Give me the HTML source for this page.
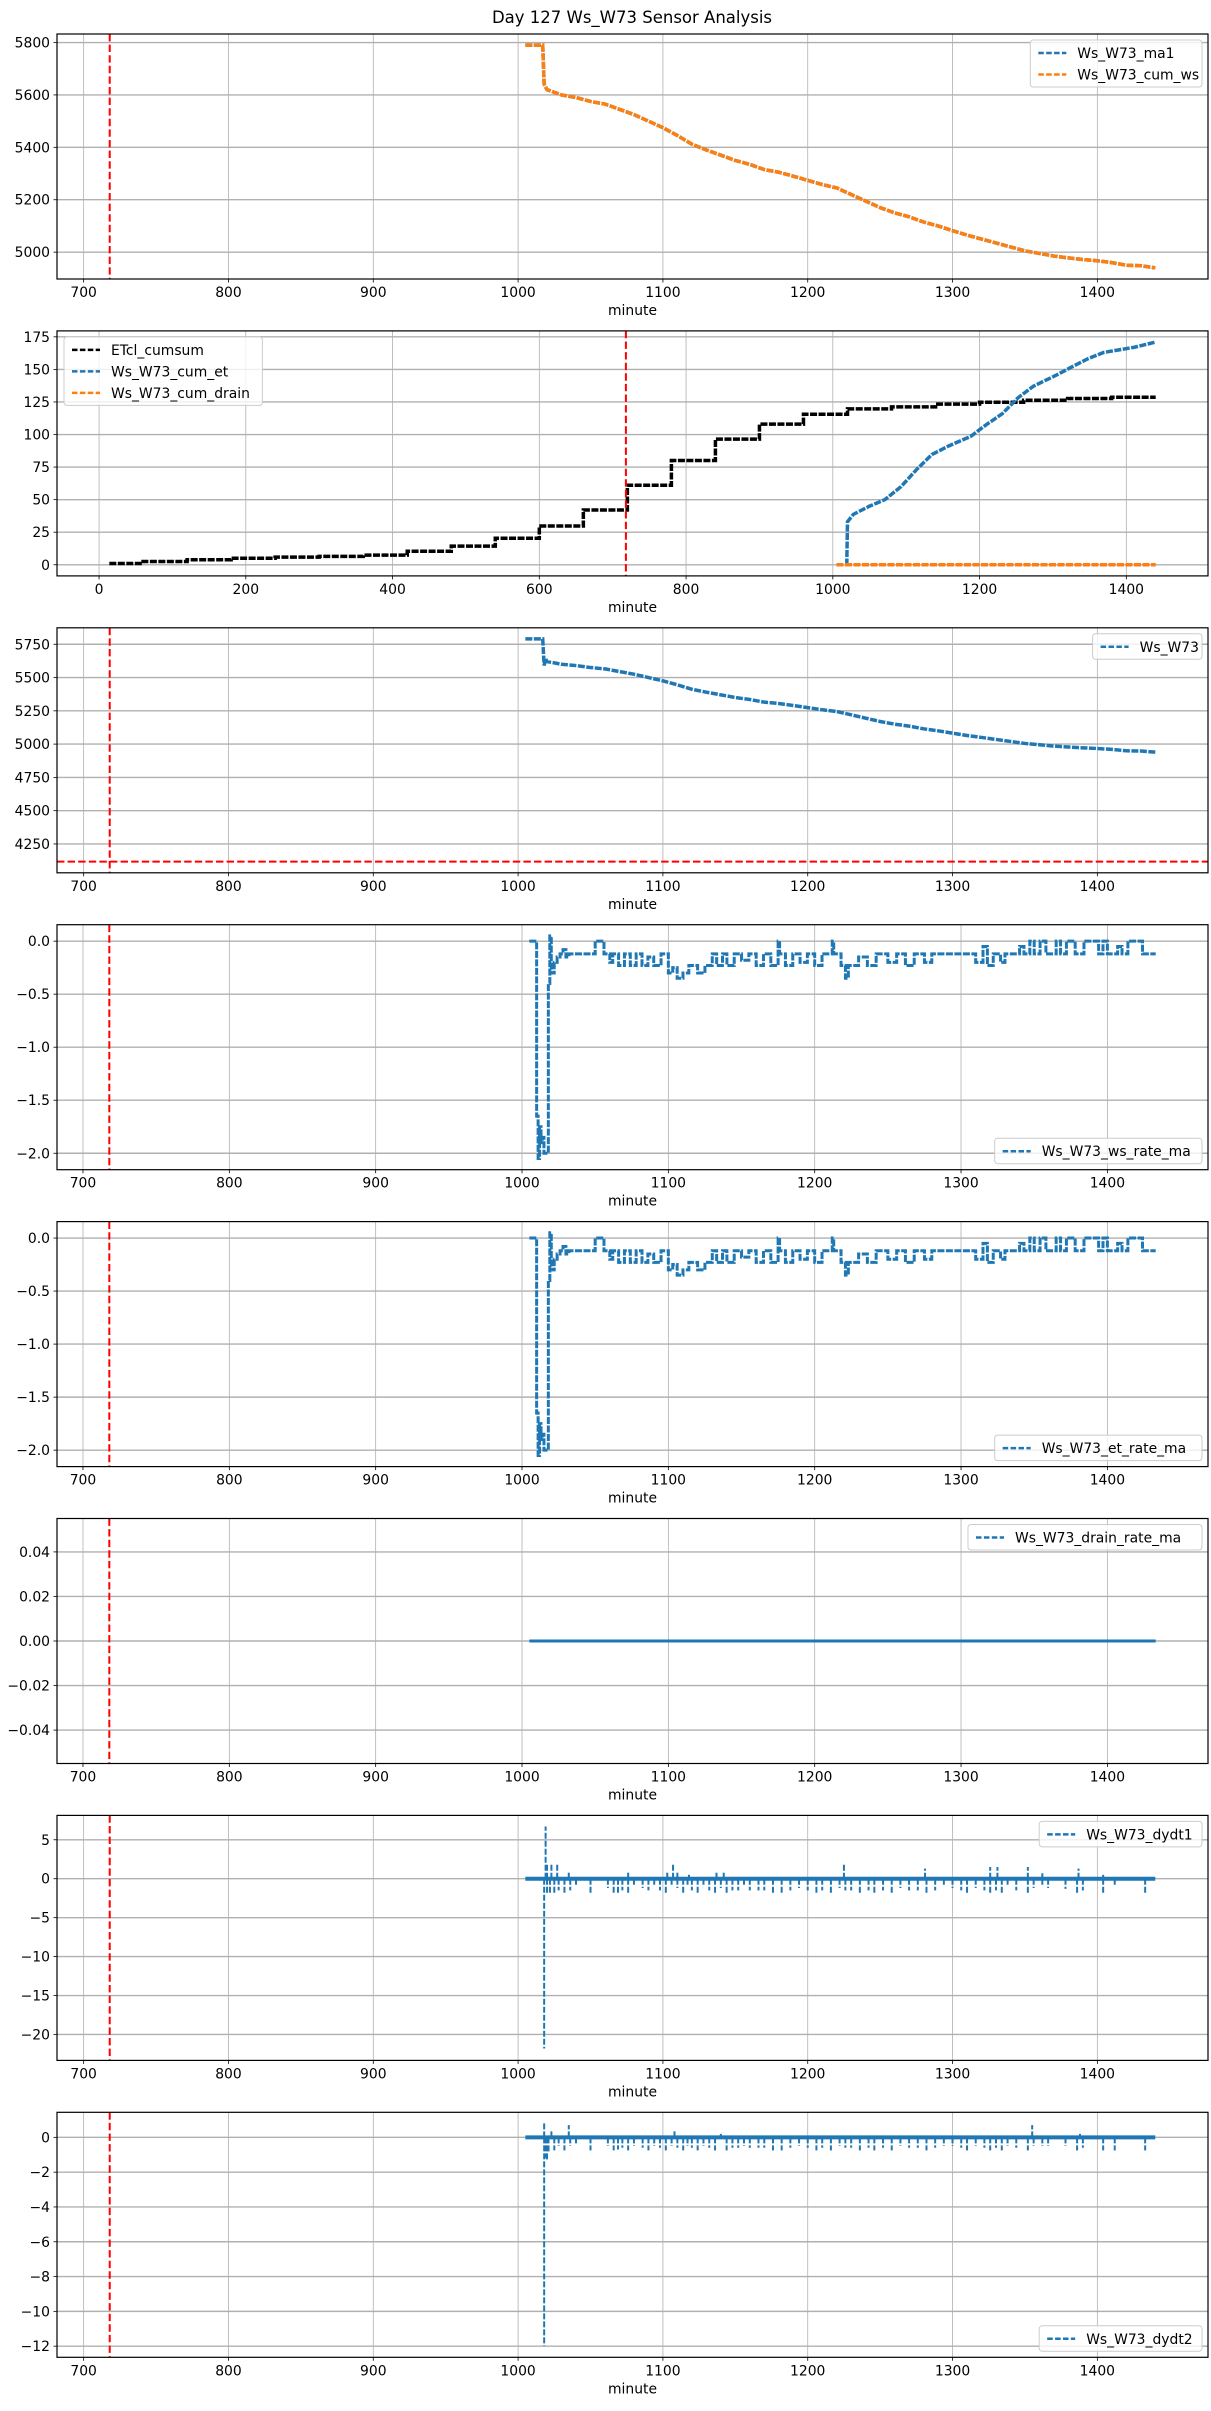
<!DOCTYPE html>
<html><head><meta charset="utf-8"><title>Day 127 Ws_W73 Sensor Analysis</title>
<style>
html,body{margin:0;padding:0;background:#fff;}
svg{display:block;font-family:"DejaVu Sans","Liberation Sans",sans-serif;}
</style></head>
<body>
<svg id="chart" width="1211" height="2411" viewBox="0 0 1211 2411" xmlns="http://www.w3.org/2000/svg">
<rect x="0" y="0" width="1211" height="2411" fill="#fff"/>
<text x="632" y="23" font-size="16.5" text-anchor="middle" fill="#000">Day 127 Ws_W73 Sensor Analysis</text>
</svg>
<script>
// ---------- data ----------
const wsMin = [1005,1017,1018,1020,1025,1030,1040,1050,1060,1070,1080,1090,1100,1110,1120,1130,1140,1150,1160,1170,1180,1190,1200,1210,1220,1230,1240,1250,1260,1270,1280,1290,1300,1310,1320,1330,1340,1350,1360,1370,1380,1390,1400,1410,1420,1430,1440];
const wsVal = [5790,5790,5640,5620,5610,5600,5590,5575,5565,5545,5525,5500,5475,5445,5412,5390,5370,5350,5335,5315,5305,5290,5274,5258,5245,5220,5195,5170,5150,5135,5115,5100,5082,5065,5050,5035,5020,5005,4995,4985,4978,4972,4967,4960,4950,4948,4940];
const etMin = [14,60,120,180,240,300,360,420,480,540,600,660,720,780,840,900,960,1020,1080,1140,1200,1260,1320,1380,1440];
const etVal = [1,2.5,3.8,5,5.9,6.4,7.4,10.4,14.3,20.4,29.8,42,61,80,96.5,108,115.6,119.7,121.2,123.3,124.8,126.3,127.6,128.6,128.6];
const cumEtMin = [1018,1019,1020,1028,1050,1071,1093,1114,1135,1157,1188,1209,1231,1252,1273,1305,1326,1347,1369,1390,1411,1440];
const cumEtVal = [0,0,33,38.7,45,50,60,73,84.6,91,98.6,107.5,116,128,137,145.7,152,158,163,165,167,171];
const drainMin = [1005,1440];
const drainVal = [0,0];
const ws3Min = [1005,1017,1018,1019,1020,1025,1030,1040,1050,1060,1070,1080,1090,1100,1110,1120,1130,1140,1150,1160,1170,1180,1190,1200,1210,1220,1230,1240,1250,1260,1270,1280,1290,1300,1310,1320,1330,1340,1350,1360,1370,1380,1390,1400,1410,1420,1430,1440];
const ws3Val = [5790,5790,5590,5640,5620,5610,5600,5590,5575,5565,5545,5525,5500,5475,5445,5412,5390,5370,5350,5335,5315,5305,5290,5274,5258,5245,5220,5195,5170,5150,5135,5115,5100,5082,5065,5050,5035,5020,5005,4995,4985,4978,4972,4967,4960,4950,4948,4940];
const wsThreshold = 4117;
const rateMin = [1005,1010,1011,1012,1013,1014,1015,1017,1018,1019,1020,1022,1024,1026,1028,1030,1032,1050,1056,1060,1062,1066,1070,1074,1078,1082,1086,1090,1095,1100,1103,1106,1110,1114,1120,1125,1130,1133,1137,1140,1145,1150,1155,1160,1165,1170,1175,1176,1180,1185,1190,1195,1200,1205,1212,1213,1218,1221,1223,1230,1236,1242,1250,1256,1262,1268,1275,1280,1290,1300,1310,1315,1318,1322,1327,1330,1340,1343,1347,1350,1354,1358,1365,1368,1372,1378,1384,1394,1397,1400,1407,1410,1414,1420,1424,1433];
const rateVal = [0,-1.65,-2.05,-1.75,-1.9,-1.85,-2.0,-2.0,-0.4,0.05,-0.3,-0.2,-0.15,-0.12,-0.08,-0.15,-0.12,0,-0.12,-0.2,-0.12,-0.23,-0.12,-0.23,-0.12,-0.23,-0.15,-0.23,-0.12,-0.3,-0.25,-0.35,-0.3,-0.23,-0.3,-0.23,-0.12,-0.23,-0.12,-0.23,-0.12,-0.18,-0.12,-0.23,-0.12,-0.23,0,-0.12,-0.23,-0.12,-0.2,-0.12,-0.23,-0.12,0,-0.12,-0.23,-0.35,-0.23,-0.15,-0.23,-0.12,-0.2,-0.12,-0.23,-0.12,-0.2,-0.12,-0.12,-0.12,-0.2,-0.05,-0.23,-0.12,-0.2,-0.12,-0.05,-0.12,0,-0.12,0,-0.12,0,-0.12,0,-0.12,0,-0.12,0,-0.12,-0.05,-0.12,0,0,-0.12,-0.12];
const drainRateMin = [1005,1433];
const drainRateVal = [0,0];
const d1Base = [1005,1440];
const d1SpikeMin = [1018,1019,1020,1020,1022,1023,1025,1027,1028,1032,1035,1036,1040,1050,1062,1066,1069,1072,1076,1076,1080,1086,1090,1094,1098,1102,1103,1106,1107,1110,1110,1114,1117,1118,1120,1124,1128,1132,1136,1137,1140,1142,1144,1148,1152,1156,1160,1166,1170,1176,1182,1188,1194,1200,1206,1210,1216,1222,1225,1226,1230,1236,1242,1246,1252,1258,1264,1270,1276,1281,1282,1288,1294,1300,1306,1310,1316,1322,1326,1326,1330,1331,1334,1338,1344,1352,1352,1356,1362,1362,1366,1378,1386,1387,1390,1404,1404,1412,1433];
const d1SpikeVal = [-21.8,6.7,-2,1.8,-1.8,1.8,-2,1.8,-1.5,-2,1,-1.5,-1,-2,-1.2,-2,-1.8,-1.5,-2,1,-1,-1.2,-1.5,-1,-1.5,-1.8,1,-1,1.8,-1.2,1,-1.8,-1,0.5,-1.5,-1.8,-1,-1.5,-2,1,-1.2,1,-2,-1.5,-1.5,-1,-1.5,-1.5,-1.5,-1.8,-2,-1.5,-1.2,-1.5,-2,-1.5,-2,-1.2,1.8,-1.5,-1.5,-2,-1.5,-2,-1.5,-2,-1.2,-1.5,-1.5,1.3,-2,-1.5,-1,-1.2,-1.5,-2,-1.2,-1.5,-2,1.5,-1.5,1.5,-2,-1,-1.5,-2,1.5,-1.2,-1,0.7,-1.2,-1.3,-1.8,1.3,-1.5,-1.8,0.5,-1,-2];
const d2Base = [1005,1440];
const d2SpikeMin = [1018,1018,1019,1020,1021,1023,1025,1028,1032,1035,1036,1040,1050,1062,1066,1069,1072,1076,1080,1086,1090,1094,1098,1102,1106,1108,1110,1114,1117,1120,1124,1128,1132,1136,1140,1144,1148,1152,1156,1160,1166,1170,1176,1182,1188,1194,1200,1206,1210,1216,1222,1226,1230,1236,1242,1246,1252,1258,1264,1270,1276,1282,1288,1294,1300,1306,1310,1316,1322,1326,1330,1334,1338,1344,1352,1355,1356,1362,1366,1378,1386,1388,1390,1404,1412,1433];
const d2SpikeVal = [-12,0.8,-1.2,-1.3,-0.9,0.4,-0.75,-0.5,-0.75,0.7,-0.5,-0.4,-0.75,-0.5,-0.75,-0.7,-0.6,-0.75,-0.5,-0.6,-0.75,-0.5,-0.6,-0.75,-0.5,0.35,-0.6,-0.75,-0.5,-0.6,-0.75,-0.5,-0.6,-0.75,0.2,-0.75,-0.6,-0.6,-0.5,-0.6,-0.6,-0.6,-0.75,-0.75,-0.6,-0.5,-0.6,-0.75,-0.6,-0.75,-0.5,-0.6,-0.6,-0.75,-0.6,-0.75,-0.6,-0.75,-0.5,-0.6,-0.6,-0.75,-0.6,-0.5,-0.5,-0.6,-0.75,-0.5,-0.6,-0.75,-0.6,-0.75,-0.5,-0.6,-0.75,0.7,-0.5,-0.5,-0.5,-0.5,-0.75,0.2,-0.6,-0.75,-0.75,-0.75];
const markerMinute = 718;

const xTicksA = [700,800,900,1000,1100,1200,1300,1400];
const xTicksB = [0,200,400,600,800,1000,1200,1400];
const yTicks1 = [5000,5200,5400,5600,5800];
const yTicks2 = [0,25,50,75,100,125,150,175];
const yTicks3 = [4250,4500,4750,5000,5250,5500,5750];
const yTicksRate = [0,-0.5,-1.0,-1.5,-2.0];
const yLabRate = ['0.0','\u22120.5','\u22121.0','\u22121.5','\u22122.0'];
const yTicks6 = [0.04,0.02,0,-0.02,-0.04];
const yLab6 = ['0.04','0.02','0.00','\u22120.02','\u22120.04'];
const yTicks7 = [5,0,-5,-10,-15,-20];
const yTicks8 = [0,-2,-4,-6,-8,-10,-12];

// ---------- drawing ----------
const NS = 'http://www.w3.org/2000/svg';
const svg = document.getElementById('chart');
const axL = 57, axR = 1208, axH = 245;
const BLUE = '#1f77b4', ORANGE = '#ff7f0e';
function mk(tag, attrs, parent){const e=document.createElementNS(NS,tag);for(const k in attrs)e.setAttribute(k,attrs[k]);parent.appendChild(e);return e;}
function fmt(v){return v<0?'\u2212'+Math.abs(v):String(v);}

function makeAxes(k, xd, yd, xt, yt, ylabs, name){
  const top = 34 + 296.9*k, bot = top + axH;
  const g = mk('g', {}, svg);
  
  
  const sx = v => axL + (v - xd[0])/(xd[1]-xd[0])*(axR-axL);
  const sy = v => bot - (v - yd[0])/(yd[1]-yd[0])*axH;
  xt.forEach(t => {
    const x = sx(t);
    const gl = mk('line', {x1:x,x2:x,y1:top,y2:bot,stroke:'#b0b0b0','stroke-width':0.8}, g);
    
    
    const tm = mk('line', {x1:x,x2:x,y1:bot,y2:bot+3.5,stroke:'#000','stroke-width':0.8}, g);
    
    
    const tl = mk('text', {x:x,y:bot+18,'font-size':13.9,'text-anchor':'middle',fill:'#000'}, g);
    
    
    tl.textContent = fmt(t);
  });
  yt.forEach((t,i) => {
    const y = sy(t);
    const gl = mk('line', {x1:axL,x2:axR,y1:y,y2:y,stroke:'#b0b0b0','stroke-width':1.4}, g);
    
    
    const tm = mk('line', {x1:axL-3.5,x2:axL,y1:y,y2:y,stroke:'#000','stroke-width':0.8}, g);
    
    
    const tl = mk('text', {x:axL-7,y:y+5,'font-size':13.9,'text-anchor':'end',fill:'#000'}, g);
    
    
    tl.textContent = ylabs ? ylabs[i] : fmt(t);
  });
  const xl = mk('text', {x:(axL+axR)/2,y:bot+36,'font-size':13.9,'text-anchor':'middle',fill:'#000'}, g);
  
  
  xl.textContent = 'minute';
  const series = mk('g', {}, g);
  
  
  return {g, series, sx, sy, top, bot};
}
function frame(ax){
  const f = mk('rect', {x:axL,y:ax.top,width:axR-axL,height:axH,fill:'none',stroke:'#000','stroke-width':1.2}, ax.g);
  
  
}
function linePath(ax, xs, ys){return xs.map((x,i)=>(i?'L':'M')+ax.sx(x).toFixed(2)+' '+ax.sy(ys[i]).toFixed(2)).join(' ');}
function stepPath(ax, xs, ys){
  let d = 'M'+ax.sx(xs[0]).toFixed(2)+' '+ax.sy(ys[0]).toFixed(2);
  for(let i=1;i<xs.length;i++){d += ' H'+ax.sx(xs[i]).toFixed(2)+' V'+ax.sy(ys[i]).toFixed(2);}
  return d;
}
function series(ax, d, color, w, name){
  const p = mk('path', {d:d,fill:'none',stroke:color,'stroke-width':w,'stroke-dasharray':'7,1.5','stroke-linejoin':'miter'}, ax.series);
  
  
  return p;
}
function vmarker(ax){
  const x = ax.sx(markerMinute);
  const l = mk('line', {x1:x,x2:x,y1:ax.top,y2:ax.bot,stroke:'#ff0000','stroke-width':2,'stroke-dasharray':'7.4,3.2'}, ax.series);
  
  
}
function spikes(ax, mins, vals, color, name){
  mins.forEach((m,i) => {
    const x = ax.sx(m);
    const s = mk('line', {x1:x,x2:x,y1:ax.sy(0),y2:ax.sy(vals[i]),stroke:color,'stroke-width':2,'stroke-dasharray':'6,2'}, ax.series);
    
    
  });
}
function legend(ax, entries, pos){
  const maxLen = Math.max(...entries.map(e=>e.label.length));
  const w = maxLen*8.9 + 56, h = 4 + 21.5*entries.length;
  let x, y;
  if(pos==='ur'){x = 1202 - w; y = ax.top + 6;}
  else if(pos==='ul'){x = 64; y = ax.top + 6;}
  else {x = 1202 - w; y = ax.bot - 6 - h;}
  const lg = mk('g', {}, ax.g);
  
  
  const box = mk('rect', {x:x,y:y,width:w,height:h,rx:3,fill:'#fff','fill-opacity':0.8,stroke:'#cccccc','stroke-width':1}, lg);
  
  
  entries.forEach((e,i) => {
    const cy = y + 13 + 21.5*i;
    const eg = mk('g', {}, lg);
    
    
    mk('line', {x1:x+8,x2:x+36,y1:cy,y2:cy,stroke:e.color,'stroke-width':2.5,'stroke-dasharray':'5.5,2.4'}, eg);
    const t = mk('text', {x:x+47,y:cy+5,'font-size':13.9,fill:'#000'}, eg);
    t.textContent = e.label;
  });
}

const XA = [681.6,1476.4], XB = [-57.3,1511.3], XC = [682.25,1468.75];

// Panel 1
const a1 = makeAxes(0, XA, [4897.5,5832.5], xTicksA, yTicks1, null, 'panel-ws-cumulative');
vmarker(a1);
series(a1, linePath(a1, wsMin, wsVal), BLUE, 3.5, 'series-ws-w73-ma1');
series(a1, linePath(a1, wsMin, wsVal), ORANGE, 3.5, 'series-ws-w73-cum-ws');
frame(a1);
legend(a1, [{label:'Ws_W73_ma1',color:BLUE},{label:'Ws_W73_cum_ws',color:ORANGE}], 'ur');

// Panel 2
const a2 = makeAxes(1, XB, [-8.55,179.55], xTicksB, yTicks2, null, 'panel-cumulative-et');
series(a2, stepPath(a2, etMin, etVal), '#000', 3.5, 'series-etcl-cumsum');
series(a2, linePath(a2, cumEtMin, cumEtVal), BLUE, 3.5, 'series-ws-w73-cum-et');
series(a2, linePath(a2, drainMin, drainVal), ORANGE, 3.5, 'series-ws-w73-cum-drain');
vmarker(a2);
frame(a2);
legend(a2, [{label:'ETcl_cumsum',color:'#000'},{label:'Ws_W73_cum_et',color:BLUE},{label:'Ws_W73_cum_drain',color:ORANGE}], 'ul');

// Panel 3
const a3 = makeAxes(2, XA, [4033.4,5873.6], xTicksA, yTicks3, null, 'panel-ws-w73');
vmarker(a3);
const th = mk('line', {x1:axL,x2:axR,y1:a3.sy(wsThreshold),y2:a3.sy(wsThreshold),stroke:'#ff0000','stroke-width':2,'stroke-dasharray':'7.4,3.2'}, a3.series);


series(a3, linePath(a3, ws3Min, ws3Val), BLUE, 3.5, 'series-ws-w73');
frame(a3);
legend(a3, [{label:'Ws_W73',color:BLUE}], 'ur');

// Panel 4
const a4 = makeAxes(3, XC, [-2.155,0.155], xTicksA, yTicksRate, yLabRate, 'panel-ws-rate-ma');
vmarker(a4);
series(a4, stepPath(a4, rateMin, rateVal), BLUE, 3, 'series-ws-w73-ws-rate-ma');
frame(a4);
legend(a4, [{label:'Ws_W73_ws_rate_ma',color:BLUE}], 'lr');

// Panel 5
const a5 = makeAxes(4, XC, [-2.155,0.155], xTicksA, yTicksRate, yLabRate, 'panel-et-rate-ma');
vmarker(a5);
series(a5, stepPath(a5, rateMin, rateVal), BLUE, 3, 'series-ws-w73-et-rate-ma');
frame(a5);
legend(a5, [{label:'Ws_W73_et_rate_ma',color:BLUE}], 'lr');

// Panel 6
const a6 = makeAxes(5, XC, [-0.055,0.055], xTicksA, yTicks6, yLab6, 'panel-drain-rate-ma');
vmarker(a6);
const dr = series(a6, linePath(a6, drainRateMin, drainRateVal), BLUE, 3, 'series-ws-w73-drain-rate-ma');
dr.setAttribute('stroke-dasharray', 'none');
frame(a6);
legend(a6, [{label:'Ws_W73_drain_rate_ma',color:BLUE}], 'ur');

// Panel 7
const a7 = makeAxes(6, XA, [-23.33,8.13], xTicksA, yTicks7, null, 'panel-dydt1');
vmarker(a7);
spikes(a7, d1SpikeMin, d1SpikeVal, BLUE, 'spike-dydt1');
const b7 = series(a7, linePath(a7, d1Base, [0,0]), BLUE, 4, 'series-ws-w73-dydt1');
b7.setAttribute('stroke-dasharray', 'none');
frame(a7);
legend(a7, [{label:'Ws_W73_dydt1',color:BLUE}], 'ur');

// Panel 8
const a8 = makeAxes(7, XA, [-12.64,1.44], xTicksA, yTicks8, null, 'panel-dydt2');
vmarker(a8);
spikes(a8, d2SpikeMin, d2SpikeVal, BLUE, 'spike-dydt2');
const b8 = series(a8, linePath(a8, d2Base, [0,0]), BLUE, 4, 'series-ws-w73-dydt2');
b8.setAttribute('stroke-dasharray', 'none');
frame(a8);
legend(a8, [{label:'Ws_W73_dydt2',color:BLUE}], 'lr');
</script>
</body></html>
